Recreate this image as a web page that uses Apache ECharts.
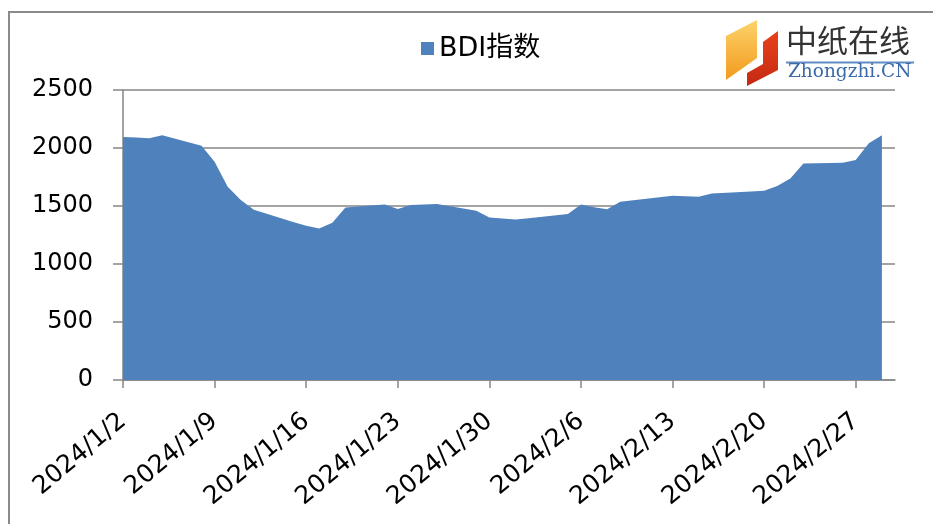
<!DOCTYPE html>
<html lang="zh">

<head>
    <meta charset="UTF-8">
    <script src="https://cdn.jsdelivr.net/npm/echarts@6/dist/echarts.min.js"></script>
    <title>BDI指数</title>
    <style>
        html, body { margin: 0; padding: 0; background: #fff; }
        #myChart { width: 933px; height: 524px; }
    </style>
</head>

<body>
    <div id="myChart"></div>
    <script>
        // trading days (weekends are simply bridged by the area, like the date axis in the original)
        var dates = [
            '2024/1/2', '2024/1/3', '2024/1/4', '2024/1/5',
            '2024/1/8', '2024/1/9', '2024/1/10', '2024/1/11', '2024/1/12',
            '2024/1/15', '2024/1/16', '2024/1/17', '2024/1/18', '2024/1/19',
            '2024/1/22', '2024/1/23', '2024/1/24', '2024/1/25', '2024/1/26',
            '2024/1/29', '2024/1/30', '2024/1/31', '2024/2/1', '2024/2/2',
            '2024/2/5', '2024/2/6', '2024/2/7', '2024/2/8', '2024/2/9',
            '2024/2/12', '2024/2/13', '2024/2/14', '2024/2/15', '2024/2/16',
            '2024/2/19', '2024/2/20', '2024/2/21', '2024/2/22', '2024/2/23',
            '2024/2/26', '2024/2/27', '2024/2/28', '2024/2/29'
        ];
        var bdi = [
            2094, 2090, 2084, 2109,
            2020, 1882, 1667, 1552, 1468,
            1362, 1330, 1307, 1356, 1488,
            1514, 1474, 1509, 1512, 1517,
            1460, 1400, 1393, 1384, 1395,
            1431, 1514, 1490, 1471, 1537,
            1575, 1589, 1585, 1580, 1608,
            1625, 1631, 1672, 1738, 1867,
            1873, 1897, 2040, 2109
        ];
        var tickDates = ['2024/1/2', '2024/1/9', '2024/1/16', '2024/1/23', '2024/1/30',
            '2024/2/6', '2024/2/13', '2024/2/20', '2024/2/27'];
        var axisEnd = '2024/3/1';
        var yTicks = [0, 500, 1000, 1500, 2000, 2500];

        var DAY = 86400000;
        function toMs(s) {
            var p = s.split('/');
            return Date.UTC(+p[0], p[1] - 1, +p[2]);
        }
        var base = toMs(dates[0]);
        function dayIdx(s) {
            return Math.round((toMs(s) - base) / DAY);
        }
        function fmt(v) {
            var d = new Date(base + v * DAY);
            return d.getUTCFullYear() + '/' + (d.getUTCMonth() + 1) + '/' + d.getUTCDate();
        }

        var seriesData = dates.map(function (d, i) {
            return [dayIdx(d), bdi[i]];
        });
        var tickIdx = tickDates.map(dayIdx);

        var dom = document.getElementById('myChart');
        var myChart = echarts.init(dom);
        var axisGray = '#868686';
        var font = 'DejaVu Sans';

        var option = {
            animation: false,
            backgroundColor: '#fff',
            textStyle: { fontFamily: font },
            legend: {
                data: ['BDI指数'],
                left: 416,
                top: 30,
                icon: 'rect',
                itemWidth: 13,
                itemHeight: 13,
                itemGap: 6,
                textStyle: {
                    fontSize: 27,
                    color: '#000',
                    fontFamily: 'DejaVu Sans, Noto Sans CJK SC'
                }
            },
            grid: {
                left: 123,
                right: 38,
                top: 90,
                bottom: 144
            },
            xAxis: {
                type: 'value',
                min: 0,
                max: dayIdx(axisEnd),
                interval: 7,
                splitLine: { show: false },
                axisLine: { lineStyle: { color: axisGray, width: 1.5 } },
                axisTick: {
                    length: 8,
                    customValues: tickIdx,
                    lineStyle: { color: axisGray, width: 1.5 }
                },
                axisLabel: {
                    customValues: tickIdx,
                    rotate: 40,
                    margin: 38,
                    fontSize: 25,
                    color: '#000',
                    formatter: fmt
                }
            },
            yAxis: {
                type: 'value',
                min: yTicks[0],
                max: yTicks[yTicks.length - 1],
                interval: 500,
                axisLine: { show: true, lineStyle: { color: axisGray, width: 1.5 } },
                axisTick: { show: true, length: 10, lineStyle: { color: axisGray, width: 1.5 } },
                splitLine: { lineStyle: { color: axisGray, width: 1.5 } },
                axisLabel: {
                    margin: 30,
                    fontSize: 24,
                    color: '#000',
                    formatter: function (v) { return String(v); }
                }
            },
            series: [{
                name: 'BDI指数',
                type: 'line',
                data: seriesData,
                symbol: 'none',
                lineStyle: { width: 0 },
                itemStyle: { color: '#4F81BD' },
                areaStyle: { color: '#4F81BD', opacity: 1 },
                z: 3
            }],
            graphic: [
                // outer chart frame
                {
                    type: 'rect',
                    shape: { x: 9, y: 12, width: 1000, height: 600 },
                    style: { fill: 'none', stroke: '#8a8a8a', lineWidth: 2 },
                    silent: true
                },
                // logo pieces
                {
                    type: 'polygon',
                    shape: { points: [[726, 36], [757, 20], [757, 58], [726, 80]] },
                    style: {
                        fill: new echarts.graphic.LinearGradient(0, 0, 0, 1, [
                            { offset: 0, color: '#fcd36a' },
                            { offset: 1, color: '#f39a1e' }
                        ])
                    }
                },
                {
                    type: 'polygon',
                    shape: {
                        points: [[763, 42], [778, 31], [778, 70], [747, 86], [747, 73], [763, 64]]
                    },
                    style: {
                        fill: new echarts.graphic.LinearGradient(0, 0, 0, 1, [
                            { offset: 0, color: '#e8401c' },
                            { offset: 1, color: '#c42a12' }
                        ])
                    }
                },
                {
                    type: 'text',
                    left: 786,
                    top: 25,
                    style: {
                        text: '中纸在线',
                        font: '31px "Noto Sans CJK SC"',
                        fill: '#333'
                    }
                },
                {
                    type: 'line',
                    shape: { x1: 786, y1: 62.5, x2: 914, y2: 62.5 },
                    style: { stroke: '#5f8cc4', lineWidth: 2 }
                },
                {
                    type: 'text',
                    left: 788,
                    top: 63,
                    style: {
                        text: 'Zhongzhi.CN',
                        font: '18.5px "DejaVu Serif"',
                        fill: '#3a6aa8'
                    }
                }
            ]
        };
        myChart.setOption(option);
    </script>
</body>

</html>
